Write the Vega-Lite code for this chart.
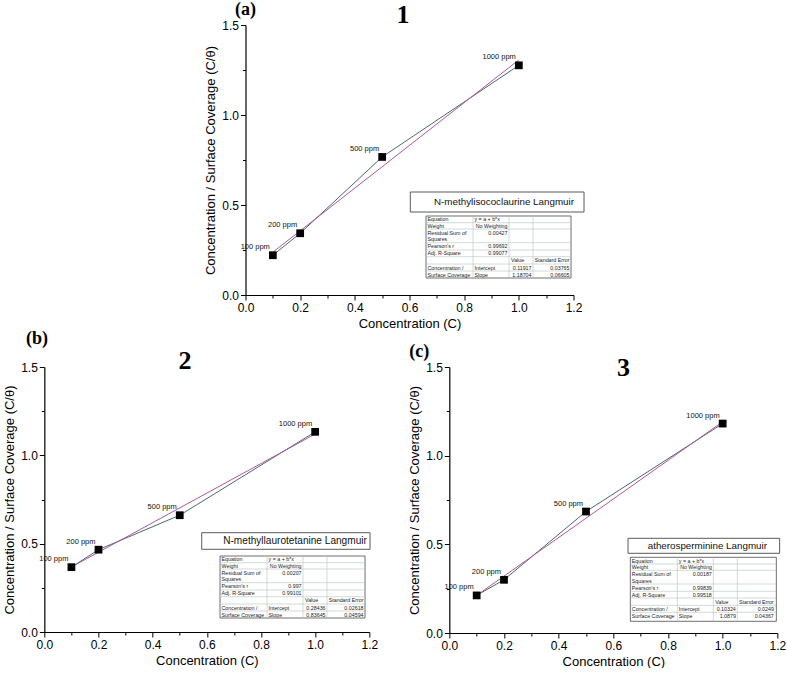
{
  "$schema": "https://vega.github.io/schema/vega-lite/v6.json",
  "background": "white",
  "padding": {"left": 3, "top": 0, "right": 0, "bottom": 0},
  "config": {
    "view": {"stroke": null},
    "font": "Liberation Sans",
    "axis": {"labelFont": "Liberation Sans", "labelFontSize": 12, "labelColor": "#000", "titleFont": "Liberation Sans", "titleFontSize": 13, "titleFontWeight": "normal", "titleColor": "#000", "domainColor": "#000", "domainWidth": 1.2, "tickColor": "#000", "tickWidth": 1, "labelPadding": 2, "labelFlush": false, "labelOverlap": false, "grid": false},
    "axisX": {"titlePadding": 4},
    "axisY": {"titlePadding": 4}
  },
  "datasets": {
    "pa": [{"c": 0.1, "v": 0.221, "label": "100 ppm"}, {"c": 0.2, "v": 0.343, "label": "200 ppm"}, {"c": 0.5, "v": 0.767, "label": "500 ppm"}, {"c": 1.0, "v": 1.276, "label": "1000 ppm"}],
    "fa": [{"c": 0.1, "v": 0.2379}, {"c": 1.0, "v": 1.3062}],
    "pb": [{"c": 0.1, "v": 0.367, "label": "100 ppm"}, {"c": 0.2, "v": 0.466, "label": "200 ppm"}, {"c": 0.5, "v": 0.661, "label": "500 ppm"}, {"c": 1.0, "v": 1.133, "label": "1000 ppm"}],
    "fb": [{"c": 0.1, "v": 0.368}, {"c": 1.0, "v": 1.1208}],
    "pc": [{"c": 0.1, "v": 0.212, "label": "100 ppm"}, {"c": 0.2, "v": 0.3, "label": "200 ppm"}, {"c": 0.5, "v": 0.685, "label": "500 ppm"}, {"c": 1.0, "v": 1.181, "label": "1000 ppm"}],
    "fc": [{"c": 0.1, "v": 0.212}, {"c": 1.0, "v": 1.1911}],
    "titles": [{"p": "a", "t": "N-methylisococlaurine Langmuir"}, {"p": "b", "t": "N-methyllaurotetanine Langmuir"}, {"p": "c", "t": "atherosperminine Langmuir"}],
    "hl": [{"y": 6.7}, {"y": 13}, {"y": 26.7}, {"y": 34}, {"y": 40.7}, {"y": 48}, {"y": 55}],
    "vl": [{"x": 47}, {"x": 83}, {"x": 107}],
    "tl": [
      {"t": "Equation", "x": 1.5, "y": 3.4}, {"t": "y = a + b*x", "x": 48.5, "y": 3.4},
      {"t": "Weight", "x": 1.5, "y": 9.9}, {"t": "Residual Sum of", "x": 1.5, "y": 16.5},
      {"t": "Squares", "x": 1.5, "y": 23.2}, {"t": "Pearson's r", "x": 1.5, "y": 30.4},
      {"t": "Adj. R-Square", "x": 1.5, "y": 37.4}, {"t": "Value", "x": 85, "y": 44.4},
      {"t": "Concentration /", "x": 1.5, "y": 51.5}, {"t": "Intercept", "x": 48.5, "y": 51.5},
      {"t": "Surface Coverage", "x": 1.5, "y": 58.5}, {"t": "Slope", "x": 48.5, "y": 58.5}
    ],
    "tv": [
      {"p": "a", "t": "No Weighting", "x": 81.5, "y": 9.9}, {"p": "a", "t": "0.00427", "x": 81.5, "y": 16.5},
      {"p": "a", "t": "0.99692", "x": 81.5, "y": 30.4}, {"p": "a", "t": "0.99077", "x": 81.5, "y": 37.4},
      {"p": "a", "t": "Standard Error", "x": 143.5, "y": 44.4}, {"p": "a", "t": "0.11917", "x": 105.5, "y": 51.5},
      {"p": "a", "t": "0.03765", "x": 143.5, "y": 51.5}, {"p": "a", "t": "1.18704", "x": 105.5, "y": 58.5},
      {"p": "a", "t": "0.06605", "x": 143.5, "y": 58.5},
      {"p": "b", "t": "No Weighting", "x": 81.5, "y": 9.9}, {"p": "b", "t": "0.00207", "x": 81.5, "y": 16.5},
      {"p": "b", "t": "0.997", "x": 81.5, "y": 30.4}, {"p": "b", "t": "0.99101", "x": 81.5, "y": 37.4},
      {"p": "b", "t": "Standard Error", "x": 143.5, "y": 44.4}, {"p": "b", "t": "0.28436", "x": 105.5, "y": 51.5},
      {"p": "b", "t": "0.02618", "x": 143.5, "y": 51.5}, {"p": "b", "t": "0.83645", "x": 105.5, "y": 58.5},
      {"p": "b", "t": "0.04594", "x": 143.5, "y": 58.5},
      {"p": "c", "t": "No Weighting", "x": 81.5, "y": 9.9}, {"p": "c", "t": "0.00187", "x": 81.5, "y": 16.5},
      {"p": "c", "t": "0.99839", "x": 81.5, "y": 30.4}, {"p": "c", "t": "0.99518", "x": 81.5, "y": 37.4},
      {"p": "c", "t": "Standard Error", "x": 143.5, "y": 44.4}, {"p": "c", "t": "0.10324", "x": 105.5, "y": 51.5},
      {"p": "c", "t": "0.0249", "x": 143.5, "y": 51.5}, {"p": "c", "t": "1.0879", "x": 105.5, "y": 58.5},
      {"p": "c", "t": "0.04367", "x": 143.5, "y": 58.5}
    ]
  },
  "center": true,
  "spacing": 0,
  "vconcat": [
    {
      "width": 328, "height": 270,
      "resolve": {"scale": {"x": "independent", "y": "independent"}, "axis": {"x": "independent", "y": "independent"}},
      "layer": [
        {
          "resolve": {"axis": {"x": "independent", "y": "independent"}},
          "layer": [
            {"data": {"name": "pa"}, "mark": {"type": "line", "color": "#4a6a64", "strokeWidth": 1},
             "encoding": {"x": {"field": "c", "type": "quantitative", "scale": {"domain": [0, 1.2], "nice": false, "zero": false}, "axis": {"orient": "bottom", "values": [0, 0.2, 0.4, 0.6, 0.8, 1, 1.2], "format": ".1f", "title": "Concentration (C)", "tickSize": 5}},
                          "y": {"field": "v", "type": "quantitative", "scale": {"domain": [0, 1.5], "nice": false, "zero": false}, "axis": {"orient": "left", "values": [0, 0.5, 1, 1.5], "format": ".1f", "title": "Concentration / Surface Coverage (C/θ)", "tickSize": 5}}}},
            {"data": {"name": "fa"}, "mark": {"type": "line", "color": "#b055a5", "strokeWidth": 1},
             "encoding": {"x": {"field": "c", "type": "quantitative", "scale": {"domain": [0, 1.2], "nice": false, "zero": false}, "axis": {"orient": "bottom", "values": [0.1, 0.3, 0.5, 0.7, 0.9, 1.1], "labels": false, "domain": false, "tickSize": 3, "title": null}},
                          "y": {"field": "v", "type": "quantitative", "scale": {"domain": [0, 1.5], "nice": false, "zero": false}, "axis": {"orient": "left", "values": [0.25, 0.75, 1.25], "labels": false, "domain": false, "tickSize": 3, "title": null}}}},
            {"data": {"name": "pa"}, "mark": {"type": "square", "size": 60, "color": "#000", "opacity": 1},
             "encoding": {"x": {"field": "c", "type": "quantitative", "scale": {"domain": [0, 1.2], "nice": false, "zero": false}, "axis": null},
                          "y": {"field": "v", "type": "quantitative", "scale": {"domain": [0, 1.5], "nice": false, "zero": false}, "axis": null}}},
            {"data": {"name": "pa"}, "mark": {"type": "text", "align": "right", "baseline": "middle", "dx": -3, "dy": -8, "fontSize": 7.5, "color": "#111"},
             "encoding": {"x": {"field": "c", "type": "quantitative", "scale": {"domain": [0, 1.2], "nice": false, "zero": false}, "axis": null},
                          "y": {"field": "v", "type": "quantitative", "scale": {"domain": [0, 1.5], "nice": false, "zero": false}, "axis": null},
                          "text": {"field": "label"}}},
            {"data": {"values": [{}]}, "mark": {"type": "text", "text": "(a)", "font": "Liberation Serif", "fontWeight": "bold", "fontSize": 18, "align": "center", "baseline": "alphabetic", "color": "#000"},
             "encoding": {"x": {"datum": 0.0, "type": "quantitative", "scale": {"domain": [0, 1.2], "nice": false, "zero": false}, "axis": null},
                          "y": {"datum": 1.556, "type": "quantitative", "scale": {"domain": [0, 1.5], "nice": false, "zero": false}, "axis": null}}},
            {"data": {"values": [{}]}, "mark": {"type": "text", "text": "1", "font": "Liberation Serif", "fontWeight": "bold", "fontSize": 26, "align": "center", "baseline": "alphabetic", "color": "#000"},
             "encoding": {"x": {"datum": 0.576, "type": "quantitative", "scale": {"domain": [0, 1.2], "nice": false, "zero": false}, "axis": null},
                          "y": {"datum": 1.511, "type": "quantitative", "scale": {"domain": [0, 1.5], "nice": false, "zero": false}, "axis": null}}}
          ]
        },
        {
          "layer": [
            {"data": {"values": [{}]}, "mark": {"type": "rect", "fill": "white", "stroke": "#5a5a5a", "strokeWidth": 1},
             "encoding": {"x": {"datum": -15.7, "type": "quantitative", "scale": {"domain": [-180.5, 147.5], "nice": false, "zero": false}, "axis": null}, "x2": {"datum": 158},
                          "y": {"datum": -24, "type": "quantitative", "scale": {"domain": [-191, 79], "reverse": true, "nice": false, "zero": false}, "axis": null}, "y2": {"datum": -4}}},
            {"data": {"name": "titles"}, "transform": [{"filter": "datum.p === 'a'"}], "mark": {"type": "text", "fontSize": 9.8, "align": "center", "baseline": "middle", "color": "#111"},
             "encoding": {"x": {"datum": 78, "type": "quantitative", "scale": {"domain": [-180.5, 147.5], "nice": false, "zero": false}, "axis": null},
                          "y": {"datum": -14, "type": "quantitative", "scale": {"domain": [-191, 79], "reverse": true, "nice": false, "zero": false}, "axis": null},
                          "text": {"field": "t"}}},
            {"data": {"values": [{}]}, "mark": {"type": "rect", "fill": "white", "stroke": "#4a4a4a", "strokeWidth": 0.8},
             "encoding": {"x": {"datum": 0, "type": "quantitative", "scale": {"domain": [-180.5, 147.5], "nice": false, "zero": false}, "axis": null}, "x2": {"datum": 145},
                          "y": {"datum": 0, "type": "quantitative", "scale": {"domain": [-191, 79], "reverse": true, "nice": false, "zero": false}, "axis": null}, "y2": {"datum": 62}}},
            {"data": {"name": "hl"}, "mark": {"type": "rule", "color": "#b3c5bd", "strokeWidth": 0.6},
             "encoding": {"x": {"datum": 0, "type": "quantitative", "scale": {"domain": [-180.5, 147.5], "nice": false, "zero": false}, "axis": null}, "x2": {"datum": 145},
                          "y": {"field": "y", "type": "quantitative", "scale": {"domain": [-191, 79], "reverse": true, "nice": false, "zero": false}, "axis": null}}},
            {"data": {"name": "vl"}, "mark": {"type": "rule", "color": "#b3c5bd", "strokeWidth": 0.6},
             "encoding": {"x": {"field": "x", "type": "quantitative", "scale": {"domain": [-180.5, 147.5], "nice": false, "zero": false}, "axis": null},
                          "y": {"datum": 0, "type": "quantitative", "scale": {"domain": [-191, 79], "reverse": true, "nice": false, "zero": false}, "axis": null}, "y2": {"datum": 62}}},
            {"data": {"name": "tl"}, "mark": {"type": "text", "align": "left", "baseline": "middle", "fontSize": 5.3, "color": "#222"},
             "encoding": {"x": {"field": "x", "type": "quantitative", "scale": {"domain": [-180.5, 147.5], "nice": false, "zero": false}, "axis": null},
                          "y": {"field": "y", "type": "quantitative", "scale": {"domain": [-191, 79], "reverse": true, "nice": false, "zero": false}, "axis": null},
                          "text": {"field": "t"}}},
            {"data": {"name": "tv"}, "transform": [{"filter": "datum.p === 'a'"}], "mark": {"type": "text", "align": "right", "baseline": "middle", "fontSize": 5.3, "color": "#222"},
             "encoding": {"x": {"field": "x", "type": "quantitative", "scale": {"domain": [-180.5, 147.5], "nice": false, "zero": false}, "axis": null},
                          "y": {"field": "y", "type": "quantitative", "scale": {"domain": [-191, 79], "reverse": true, "nice": false, "zero": false}, "axis": null},
                          "text": {"field": "t"}}}
          ]
        }
      ]
    },
    {
      "spacing": 30,
      "hconcat": [
        {
          "width": 325, "height": 265,
          "resolve": {"scale": {"x": "independent", "y": "independent"}, "axis": {"x": "independent", "y": "independent"}},
          "layer": [
            {
              "resolve": {"axis": {"x": "independent", "y": "independent"}},
              "layer": [
                {"data": {"name": "pb"}, "mark": {"type": "line", "color": "#4a6a64", "strokeWidth": 1},
                 "encoding": {"x": {"field": "c", "type": "quantitative", "scale": {"domain": [0, 1.2], "nice": false, "zero": false}, "axis": {"orient": "bottom", "values": [0, 0.2, 0.4, 0.6, 0.8, 1, 1.2], "format": ".1f", "title": "Concentration (C)", "tickSize": 5}},
                              "y": {"field": "v", "type": "quantitative", "scale": {"domain": [0, 1.5], "nice": false, "zero": false}, "axis": {"orient": "left", "values": [0, 0.5, 1, 1.5], "format": ".1f", "title": "Concentration / Surface Coverage (C/θ)", "tickSize": 5}}}},
                {"data": {"name": "fb"}, "mark": {"type": "line", "color": "#b055a5", "strokeWidth": 1},
                 "encoding": {"x": {"field": "c", "type": "quantitative", "scale": {"domain": [0, 1.2], "nice": false, "zero": false}, "axis": {"orient": "bottom", "values": [0.1, 0.3, 0.5, 0.7, 0.9, 1.1], "labels": false, "domain": false, "tickSize": 3, "title": null}},
                              "y": {"field": "v", "type": "quantitative", "scale": {"domain": [0, 1.5], "nice": false, "zero": false}, "axis": {"orient": "left", "values": [0.25, 0.75, 1.25], "labels": false, "domain": false, "tickSize": 3, "title": null}}}},
                {"data": {"name": "pb"}, "mark": {"type": "square", "size": 60, "color": "#000", "opacity": 1},
                 "encoding": {"x": {"field": "c", "type": "quantitative", "scale": {"domain": [0, 1.2], "nice": false, "zero": false}, "axis": null},
                              "y": {"field": "v", "type": "quantitative", "scale": {"domain": [0, 1.5], "nice": false, "zero": false}, "axis": null}}},
                {"data": {"name": "pb"}, "mark": {"type": "text", "align": "right", "baseline": "middle", "dx": -3, "dy": -8, "fontSize": 7.5, "color": "#111"},
                 "encoding": {"x": {"field": "c", "type": "quantitative", "scale": {"domain": [0, 1.2], "nice": false, "zero": false}, "axis": null},
                              "y": {"field": "v", "type": "quantitative", "scale": {"domain": [0, 1.5], "nice": false, "zero": false}, "axis": null},
                              "text": {"field": "label"}}},
                {"data": {"values": [{}]}, "mark": {"type": "text", "text": "(b)", "font": "Liberation Serif", "fontWeight": "bold", "fontSize": 18, "align": "center", "baseline": "alphabetic", "color": "#000"},
                 "encoding": {"x": {"datum": -0.027, "type": "quantitative", "scale": {"domain": [0, 1.2], "nice": false, "zero": false}, "axis": null},
                              "y": {"datum": 1.628, "type": "quantitative", "scale": {"domain": [0, 1.5], "nice": false, "zero": false}, "axis": null}}},
                {"data": {"values": [{}]}, "mark": {"type": "text", "text": "2", "font": "Liberation Serif", "fontWeight": "bold", "fontSize": 26, "align": "center", "baseline": "alphabetic", "color": "#000"},
                 "encoding": {"x": {"datum": 0.519, "type": "quantitative", "scale": {"domain": [0, 1.2], "nice": false, "zero": false}, "axis": null},
                              "y": {"datum": 1.49, "type": "quantitative", "scale": {"domain": [0, 1.5], "nice": false, "zero": false}, "axis": null}}}
              ]
            },
            {
              "layer": [
                {"data": {"values": [{}]}, "mark": {"type": "rect", "fill": "white", "stroke": "#5a5a5a", "strokeWidth": 1},
                 "encoding": {"x": {"datum": -18.3, "type": "quantitative", "scale": {"domain": [-175.7, 149.3], "nice": false, "zero": false}, "axis": null}, "x2": {"datum": 150},
                              "y": {"datum": -23.3, "type": "quantitative", "scale": {"domain": [-189, 76], "reverse": true, "nice": false, "zero": false}, "axis": null}, "y2": {"datum": -6.7}}},
                {"data": {"name": "titles"}, "transform": [{"filter": "datum.p === 'b'"}], "mark": {"type": "text", "fontSize": 10.1, "align": "center", "baseline": "middle", "color": "#111"},
                 "encoding": {"x": {"datum": 75, "type": "quantitative", "scale": {"domain": [-175.7, 149.3], "nice": false, "zero": false}, "axis": null},
                              "y": {"datum": -15, "type": "quantitative", "scale": {"domain": [-189, 76], "reverse": true, "nice": false, "zero": false}, "axis": null},
                              "text": {"field": "t"}}},
                {"data": {"values": [{}]}, "mark": {"type": "rect", "fill": "white", "stroke": "#4a4a4a", "strokeWidth": 0.8},
                 "encoding": {"x": {"datum": 0, "type": "quantitative", "scale": {"domain": [-175.7, 149.3], "nice": false, "zero": false}, "axis": null}, "x2": {"datum": 145},
                              "y": {"datum": 0, "type": "quantitative", "scale": {"domain": [-189, 76], "reverse": true, "nice": false, "zero": false}, "axis": null}, "y2": {"datum": 62}}},
                {"data": {"name": "hl"}, "mark": {"type": "rule", "color": "#b3c5bd", "strokeWidth": 0.6},
                 "encoding": {"x": {"datum": 0, "type": "quantitative", "scale": {"domain": [-175.7, 149.3], "nice": false, "zero": false}, "axis": null}, "x2": {"datum": 145},
                              "y": {"field": "y", "type": "quantitative", "scale": {"domain": [-189, 76], "reverse": true, "nice": false, "zero": false}, "axis": null}}},
                {"data": {"name": "vl"}, "mark": {"type": "rule", "color": "#b3c5bd", "strokeWidth": 0.6},
                 "encoding": {"x": {"field": "x", "type": "quantitative", "scale": {"domain": [-175.7, 149.3], "nice": false, "zero": false}, "axis": null},
                              "y": {"datum": 0, "type": "quantitative", "scale": {"domain": [-189, 76], "reverse": true, "nice": false, "zero": false}, "axis": null}, "y2": {"datum": 62}}},
                {"data": {"name": "tl"}, "mark": {"type": "text", "align": "left", "baseline": "middle", "fontSize": 5.3, "color": "#222"},
                 "encoding": {"x": {"field": "x", "type": "quantitative", "scale": {"domain": [-175.7, 149.3], "nice": false, "zero": false}, "axis": null},
                              "y": {"field": "y", "type": "quantitative", "scale": {"domain": [-189, 76], "reverse": true, "nice": false, "zero": false}, "axis": null},
                              "text": {"field": "t"}}},
                {"data": {"name": "tv"}, "transform": [{"filter": "datum.p === 'b'"}], "mark": {"type": "text", "align": "right", "baseline": "middle", "fontSize": 5.3, "color": "#222"},
                 "encoding": {"x": {"field": "x", "type": "quantitative", "scale": {"domain": [-175.7, 149.3], "nice": false, "zero": false}, "axis": null},
                              "y": {"field": "y", "type": "quantitative", "scale": {"domain": [-189, 76], "reverse": true, "nice": false, "zero": false}, "axis": null},
                              "text": {"field": "t"}}}
              ]
            }
          ]
        },
        {
          "width": 328, "height": 266,
          "resolve": {"scale": {"x": "independent", "y": "independent"}, "axis": {"x": "independent", "y": "independent"}},
          "layer": [
            {
              "resolve": {"axis": {"x": "independent", "y": "independent"}},
              "layer": [
                {"data": {"name": "pc"}, "mark": {"type": "line", "color": "#4a6a64", "strokeWidth": 1},
                 "encoding": {"x": {"field": "c", "type": "quantitative", "scale": {"domain": [0, 1.2], "nice": false, "zero": false}, "axis": {"orient": "bottom", "values": [0, 0.2, 0.4, 0.6, 0.8, 1, 1.2], "format": ".1f", "title": "Concentration (C)", "tickSize": 5}},
                              "y": {"field": "v", "type": "quantitative", "scale": {"domain": [0, 1.5], "nice": false, "zero": false}, "axis": {"orient": "left", "values": [0, 0.5, 1, 1.5], "format": ".1f", "title": "Concentration / Surface Coverage (C/θ)", "tickSize": 5}}}},
                {"data": {"name": "fc"}, "mark": {"type": "line", "color": "#b055a5", "strokeWidth": 1},
                 "encoding": {"x": {"field": "c", "type": "quantitative", "scale": {"domain": [0, 1.2], "nice": false, "zero": false}, "axis": {"orient": "bottom", "values": [0.1, 0.3, 0.5, 0.7, 0.9, 1.1], "labels": false, "domain": false, "tickSize": 3, "title": null}},
                              "y": {"field": "v", "type": "quantitative", "scale": {"domain": [0, 1.5], "nice": false, "zero": false}, "axis": {"orient": "left", "values": [0.25, 0.75, 1.25], "labels": false, "domain": false, "tickSize": 3, "title": null}}}},
                {"data": {"name": "pc"}, "mark": {"type": "square", "size": 60, "color": "#000", "opacity": 1},
                 "encoding": {"x": {"field": "c", "type": "quantitative", "scale": {"domain": [0, 1.2], "nice": false, "zero": false}, "axis": null},
                              "y": {"field": "v", "type": "quantitative", "scale": {"domain": [0, 1.5], "nice": false, "zero": false}, "axis": null}}},
                {"data": {"name": "pc"}, "mark": {"type": "text", "align": "right", "baseline": "middle", "dx": -3, "dy": -8, "fontSize": 7.5, "color": "#111"},
                 "encoding": {"x": {"field": "c", "type": "quantitative", "scale": {"domain": [0, 1.2], "nice": false, "zero": false}, "axis": null},
                              "y": {"field": "v", "type": "quantitative", "scale": {"domain": [0, 1.5], "nice": false, "zero": false}, "axis": null},
                              "text": {"field": "label"}}},
                {"data": {"values": [{}]}, "mark": {"type": "text", "text": "(c)", "font": "Liberation Serif", "fontWeight": "bold", "fontSize": 18, "align": "center", "baseline": "alphabetic", "color": "#000"},
                 "encoding": {"x": {"datum": -0.11, "type": "quantitative", "scale": {"domain": [0, 1.2], "nice": false, "zero": false}, "axis": null},
                              "y": {"datum": 1.556, "type": "quantitative", "scale": {"domain": [0, 1.5], "nice": false, "zero": false}, "axis": null}}},
                {"data": {"values": [{}]}, "mark": {"type": "text", "text": "3", "font": "Liberation Serif", "fontWeight": "bold", "fontSize": 26, "align": "center", "baseline": "alphabetic", "color": "#000"},
                 "encoding": {"x": {"datum": 0.637, "type": "quantitative", "scale": {"domain": [0, 1.2], "nice": false, "zero": false}, "axis": null},
                              "y": {"datum": 1.449, "type": "quantitative", "scale": {"domain": [0, 1.5], "nice": false, "zero": false}, "axis": null}}}
              ]
            },
            {
              "layer": [
                {"data": {"values": [{}]}, "mark": {"type": "rect", "fill": "white", "stroke": "#5a5a5a", "strokeWidth": 1},
                 "encoding": {"x": {"datum": -2.3, "type": "quantitative", "scale": {"domain": [-181, 147], "nice": false, "zero": false}, "axis": null}, "x2": {"datum": 149.3},
                              "y": {"datum": -19, "type": "quantitative", "scale": {"domain": [-190.3, 75.7], "reverse": true, "nice": false, "zero": false}, "axis": null}, "y2": {"datum": -4}}},
                {"data": {"name": "titles"}, "transform": [{"filter": "datum.p === 'c'"}], "mark": {"type": "text", "fontSize": 9.8, "align": "center", "baseline": "middle", "color": "#111"},
                 "encoding": {"x": {"datum": 77, "type": "quantitative", "scale": {"domain": [-181, 147], "nice": false, "zero": false}, "axis": null},
                              "y": {"datum": -11.5, "type": "quantitative", "scale": {"domain": [-190.3, 75.7], "reverse": true, "nice": false, "zero": false}, "axis": null},
                              "text": {"field": "t"}}},
                {"data": {"values": [{}]}, "mark": {"type": "rect", "fill": "white", "stroke": "#4a4a4a", "strokeWidth": 0.8},
                 "encoding": {"x": {"datum": 0, "type": "quantitative", "scale": {"domain": [-181, 147], "nice": false, "zero": false}, "axis": null}, "x2": {"datum": 146},
                              "y": {"datum": 0, "type": "quantitative", "scale": {"domain": [-190.3, 75.7], "reverse": true, "nice": false, "zero": false}, "axis": null}, "y2": {"datum": 64}}},
                {"data": {"name": "hl"}, "mark": {"type": "rule", "color": "#b3c5bd", "strokeWidth": 0.6},
                 "encoding": {"x": {"datum": 0, "type": "quantitative", "scale": {"domain": [-181, 147], "nice": false, "zero": false}, "axis": null}, "x2": {"datum": 146},
                              "y": {"field": "y", "type": "quantitative", "scale": {"domain": [-190.3, 75.7], "reverse": true, "nice": false, "zero": false}, "axis": null}}},
                {"data": {"name": "vl"}, "mark": {"type": "rule", "color": "#b3c5bd", "strokeWidth": 0.6},
                 "encoding": {"x": {"field": "x", "type": "quantitative", "scale": {"domain": [-181, 147], "nice": false, "zero": false}, "axis": null},
                              "y": {"datum": 0, "type": "quantitative", "scale": {"domain": [-190.3, 75.7], "reverse": true, "nice": false, "zero": false}, "axis": null}, "y2": {"datum": 64}}},
                {"data": {"name": "tl"}, "mark": {"type": "text", "align": "left", "baseline": "middle", "fontSize": 5.3, "color": "#222"},
                 "encoding": {"x": {"field": "x", "type": "quantitative", "scale": {"domain": [-181, 147], "nice": false, "zero": false}, "axis": null},
                              "y": {"field": "y", "type": "quantitative", "scale": {"domain": [-190.3, 75.7], "reverse": true, "nice": false, "zero": false}, "axis": null},
                              "text": {"field": "t"}}},
                {"data": {"name": "tv"}, "transform": [{"filter": "datum.p === 'c'"}], "mark": {"type": "text", "align": "right", "baseline": "middle", "fontSize": 5.3, "color": "#222"},
                 "encoding": {"x": {"field": "x", "type": "quantitative", "scale": {"domain": [-181, 147], "nice": false, "zero": false}, "axis": null},
                              "y": {"field": "y", "type": "quantitative", "scale": {"domain": [-190.3, 75.7], "reverse": true, "nice": false, "zero": false}, "axis": null},
                              "text": {"field": "t"}}}
              ]
            }
          ]
        }
      ]
    }
  ]
}
